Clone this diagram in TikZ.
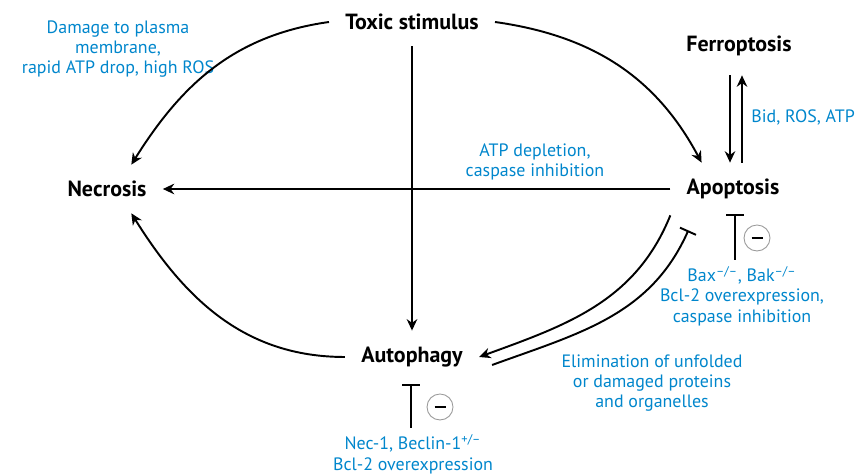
\documentclass[tikz,border=0pt]{standalone}
\usepackage{fontspec}
\setmainfont{PT Sans}
\usetikzlibrary{arrows.meta,calc}
\definecolor{noteblue}{RGB}{0,134,204}

\begin{document}
\begin{tikzpicture}[x=0.02cm,y=0.02cm,
    state/.style={font=\bfseries\fontsize{12.5}{14}\selectfont, outer sep=0.21cm},
    note/.style={text=noteblue, align=center, font=\fontsize{10.2}{11.6}\selectfont},
    link/.style={line width=1.1pt, -{Stealth[length=6.5pt,width=6pt]}},
    block/.style={line width=1.1pt, -{Bar[width=10pt]}},
    minus/.style={draw=gray!80, line width=0.5pt, circle, minimum size=0.52cm, inner sep=0pt}]

\useasboundingbox (0,0) rectangle (859,476);

% states
    \node[state] (toxic) at (412,454) {Toxic stimulus};
    \node[state] (ferro) at (739,430) {Ferroptosis};
    \node[state] (necro) at (107,287) {Necrosis};
    \node[state] (apop)  at (733,287) {Apoptosis};
    \node[state] (auto)  at (412,119) {Autophagy};

% labels
    \node[note] (dmg) at (118,427) {Damage to plasma\\membrane,\\rapid ATP drop, high ROS};
    \node[note] (atp) at (535,314) {ATP depletion,\\caspase inhibition};
    \node[note, anchor=east, inner sep=1pt] (bid) at (857,359) {Bid, ROS, ATP};
    \node[note] (bax) at (742,180) {Bax\textsuperscript{–/–}, Bak\textsuperscript{–/–}\\Bcl-2 overexpression,\\caspase inhibition};
    \node[note] (elim) at (652,93) {Elimination of unfolded\\or damaged proteins\\and organelles};
    \node[note] (nec) at (413,22) {Nec-1, Beclin-1\textsuperscript{+/–}\\Bcl-2 overexpression};

% arrows
\draw[link] (toxic.west) to[out=188, in=58] (necro.45);
\draw[link] (toxic.east) to[out=-8, in=118] (apop.140);
\draw[link] (toxic) -- (auto);
\draw[link] (apop) -- (necro);
\draw[link] (auto.west) to[out=180, in=-58] (necro.-45);
\draw[link] (apop.south west) to[out=-112, in=20] (auto.east);
\draw[block] ($(auto.east)+(13,-8)$) to[out=20, in=-114] ($(apop.south west)+(18,-15)$);

% ferroptosis <-> apoptosis
\coordinate (fdown) at ($(ferro.south)+(-9,-3)$);
\coordinate (fup) at ($(ferro.south)+(3,-3)$);
\draw[link] (fdown) -- (fdown |- apop.north);
\draw[link] (fup |- apop.north) -- (fup);

% inhibitors
\coordinate (abase) at (735,216);
\coordinate (atop) at (735,262);
\draw[block] (abase) -- (atop);
\node[minus] (aminus) at (757,238) {\rule{0.22cm}{1.2pt}};
\coordinate (pbase) at (411,48);
\coordinate (ptop) at (411,92);
\draw[block] (pbase) -- (ptop);
\node[minus] (pminus) at (440,69) {\rule{0.22cm}{1.2pt}};
\end{tikzpicture}
\end{document}
